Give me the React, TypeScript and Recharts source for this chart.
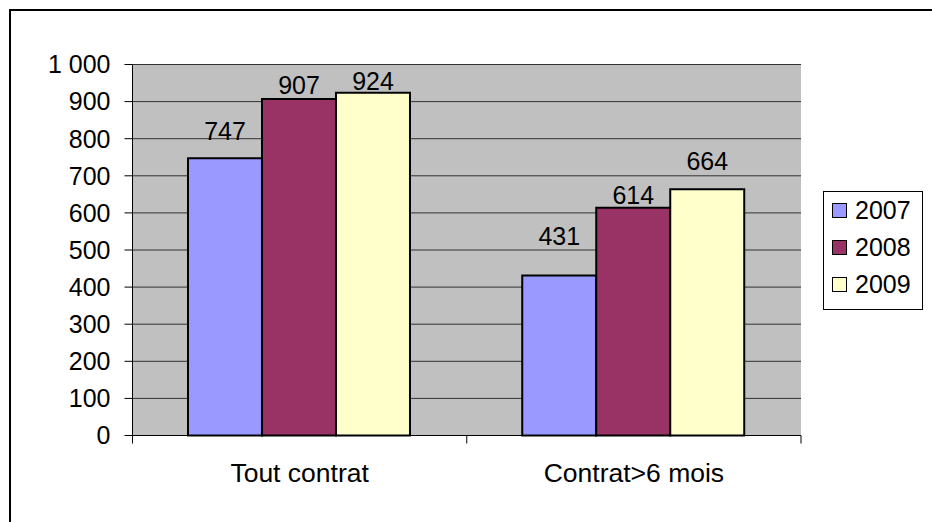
import React from 'react';
import { BarChart, Bar, XAxis, YAxis, CartesianGrid, LabelList } from 'recharts';

const categories = ['Tout contrat', 'Contrat>6 mois'];
const seriesNames = ['2007', '2008', '2009'];
const values2007 = [747, 431];
const values2008 = [907, 614];
const values2009 = [924, 664];
const yTicks = [0, 100, 200, 300, 400, 500, 600, 700, 800, 900, 1000];
const seriesColors = ['#9999FF', '#993366', '#FFFFCC'];
// distance (px) from bar top to the centre of its value label, as placed in the original
const labelLift2007 = [27, 39];
const labelLift2008 = [14, 13];
const labelLift2009 = [12, 28];

const FONT = '"Liberation Sans", Arial, sans-serif';
const FS = 25;
const CAT_FS = 26.5;

const data = categories.map((c, i) => ({
  cat: c,
  y2007: values2007[i],
  y2008: values2008[i],
  y2009: values2009[i],
}));
const seriesKeys = ['y2007', 'y2008', 'y2009'];
const seriesLifts = [labelLift2007, labelLift2008, labelLift2009];

const fmt = (v: number) => String(v).replace(/\B(?=(\d{3})+(?!\d))/g, ' ');

const makeLabel = (lifts: number[]) => (props: any) => {
  const { x, y, width, value, index } = props;
  return (
    <text
      x={Number(x) + Number(width) / 2}
      y={Number(y) - lifts[index]}
      dy="0.355em"
      textAnchor="middle"
      fontSize={FS}
      fontFamily={FONT}
      fill="#000"
    >
      {value}
    </text>
  );
};

const CatTick = (props: any) => {
  const { x, y, payload, index, visibleTicksCount, width } = props;
  const half = (payload && payload.offset) || Number(width) / Number(visibleTicksCount) / 2;
  return (
    <g>
      <line x1={x - half} x2={x - half} y1={y} y2={y + 8} stroke="#000" strokeWidth={1} />
      {index === visibleTicksCount - 1 && (
        <line x1={x + half} x2={x + half} y1={y} y2={y + 8} stroke="#000" strokeWidth={1} />
      )}
      <text x={x} y={y + 46} textAnchor="middle" fontSize={CAT_FS} fontFamily={FONT} fill="#000">
        {payload.value}
      </text>
    </g>
  );
};

export default function App() {
  return (
    <div
      style={{
        position: 'fixed',
        left: 0,
        top: 0,
        width: 932,
        height: 522,
        overflow: 'hidden',
        background: '#fff',
        fontFamily: FONT,
      }}
    >
      <div
        style={{
          position: 'absolute',
          left: 9,
          top: 9,
          width: 1000,
          height: 600,
          border: '2px solid #000',
          boxSizing: 'border-box',
        }}
      />
      <div style={{ position: 'absolute', left: 0, top: 0 }}>
        <BarChart
          width={932}
          height={522}
          data={data}
          margin={{ top: 64.5, right: 131, bottom: 26.5, left: 72.5 }}
          barCategoryGap="16.6%"
          barGap={0}
        >
          <CartesianGrid vertical={false} fill="#C0C0C0" fillOpacity={1} stroke="#333333" />
          <XAxis
            dataKey="cat"
            height={60}
            tickSize={0}
            tickMargin={0}
            tickLine={false}
            interval={0}
            axisLine={{ stroke: '#000', strokeWidth: 1 }}
            tick={<CatTick />}
          />
          <XAxis
            xAxisId="top"
            orientation="top"
            dataKey="cat"
            height={0}
            tick={false}
            tickLine={false}
            axisLine={{ stroke: '#808080', strokeWidth: 2 }}
          />
          <YAxis
            type="number"
            domain={[0, 1000]}
            ticks={yTicks}
            interval={0}
            width={60}
            tickSize={8}
            tickMargin={14}
            axisLine={{ stroke: '#000', strokeWidth: 1 }}
            tickLine={{ stroke: '#000', strokeWidth: 1 }}
            tick={{ fill: '#000', fontSize: FS, fontFamily: FONT }}
            tickFormatter={fmt}
          />
          <YAxis
            yAxisId="right"
            orientation="right"
            type="number"
            domain={[0, 1000]}
            width={0}
            tick={false}
            tickLine={false}
            axisLine={{ stroke: '#808080', strokeWidth: 2 }}
          />
          {seriesKeys.map((k, i) => (
            <Bar
              key={k}
              dataKey={k}
              name={seriesNames[i]}
              fill={seriesColors[i]}
              stroke="#000"
              strokeWidth={2}
              isAnimationActive={false}
            >
              <LabelList dataKey={k} content={makeLabel(seriesLifts[i])} />
            </Bar>
          ))}
        </BarChart>
      </div>
      <div
        style={{
          position: 'absolute',
          left: 823,
          top: 191,
          width: 100,
          height: 119,
          border: '1px solid #000',
          boxSizing: 'border-box',
          background: '#fff',
        }}
      >
        {seriesNames.map((n, i) => (
          <div
            key={n}
            style={{ height: 37, display: 'flex', alignItems: 'center', paddingLeft: 8 }}
          >
            <div
              style={{
                width: 15,
                height: 15,
                boxSizing: 'border-box',
                border: '1px solid #000',
                background: seriesColors[i],
              }}
            />
            <span style={{ marginLeft: 8, fontSize: FS, color: '#000', lineHeight: 1 }}>{n}</span>
          </div>
        ))}
      </div>
    </div>
  );
}
